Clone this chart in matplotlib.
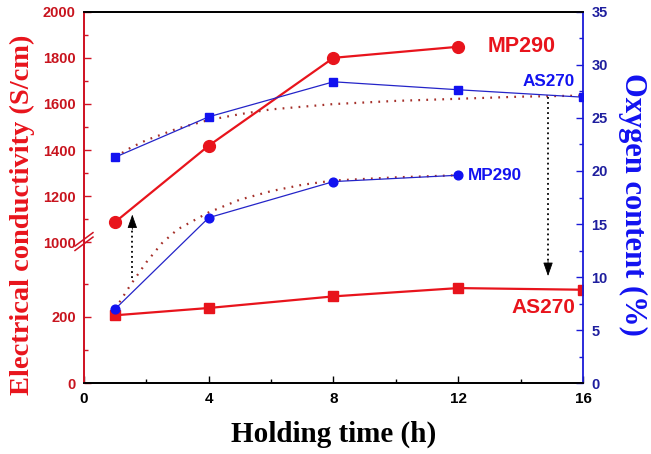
import numpy as np
import matplotlib
matplotlib.use("Agg")
import matplotlib.pyplot as plt
from matplotlib.ticker import FixedLocator

# ---------------- data ----------------
hours = [1, 4, 8, 12, 16]
mp290_hours = [1, 4, 8, 12]

mp290_cond = [1088, 1419, 1800, 1848]          # S/cm
as270_cond = [205, 227, 262, 287, 282]         # S/cm
as270_oxy = [21.3, 25.1, 28.4, 27.65, 26.95]   # %
mp290_oxy = [7.0, 15.6, 19.0, 19.6]            # %

# dotted guide curves
as270_fit_x = [1, 1.5, 2, 3, 4, 5, 6, 8, 10, 12, 14, 16]
as270_fit_y = [21.3, 22.2, 22.9, 24.0, 24.8, 25.35, 25.8, 26.3, 26.6, 26.8, 27.0, 27.1]
mp290_fit_x = [1, 1.5, 2, 2.5, 3, 4, 5, 6, 7, 8, 10, 12]
mp290_fit_y = [7.0, 9.3, 11.4, 13.2, 14.5, 16.1, 17.3, 18.1, 18.7, 19.1, 19.4, 19.6]

# arrows (x, start oxygen, end oxygen)
arrow_up = (1.55, 9.9, 15.9)
arrow_down = (14.88, 27.0, 10.1)

x_ticks = [0, 4, 8, 12, 16]
y_left_ticks = [0, 200, 1000, 1200, 1400, 1600, 1800, 2000]
y_left_minor = [100, 300, 1100, 1300, 1500, 1700, 1900]
y_right_ticks = [0, 5, 10, 15, 20, 25, 30, 35]

# ---------------- broken scale ----------------
L_TOP = 425.0
F_BRK = 0.3795

def fwd(v):
    v = np.asarray(v, dtype=float)
    return np.where(v <= L_TOP, v / L_TOP * F_BRK,
                    np.where(v >= 1000, F_BRK + (v - 1000) / 1000 * (1 - F_BRK), F_BRK))

def inv(t):
    t = np.asarray(t, dtype=float)
    return np.where(t <= F_BRK, t / F_BRK * L_TOP, 1000 + (t - F_BRK) / (1 - F_BRK) * 1000)

RED = "#e8141c"
RED_SP = "#d01424"
RED_TXT = "#c8141e"
BLUE = "#1212f0"
BLUE_LN = "#2424c8"
BLUE_SP = "#1a1ad8"
BLUE_TXT = "#1e1e9e"
DOT = "#a5302a"

plt.rcParams['font.family'] = ['Liberation Sans', 'DejaVu Sans']

fig = plt.figure(figsize=(6.51, 4.54), dpi=100)
ax = fig.add_axes([0.129, 0.1557, 0.7665, 0.8185])
ax2 = ax.twinx()

ax.set_yscale('function', functions=(fwd, inv))
ax.set_ylim(0, 2000)
ax.set_xlim(0, 16)
ax2.set_ylim(0, 35)

# conductivity
ax.plot(mp290_hours, mp290_cond, '-o', color=RED, lw=1.6, ms=8.5, mec=RED, zorder=3)
ax.plot(hours, as270_cond, '-s', color=RED, lw=1.6, ms=7, mec=RED, zorder=3)

# oxygen
ax2.plot(hours, as270_oxy, '-s', color=BLUE_LN, lw=0.9, ms=5.5, mfc=BLUE, mec=BLUE, zorder=3)
ax2.plot(mp290_hours, mp290_oxy, '-o', color=BLUE_LN, lw=0.9, ms=6.3, mfc=BLUE, mec=BLUE, zorder=3)

# dotted guide curves
ax2.plot(as270_fit_x, as270_fit_y, color=DOT, lw=1.6, dashes=(0.8, 2.8), zorder=2)
ax2.plot(mp290_fit_x, mp290_fit_y, color=DOT, lw=1.6, dashes=(0.8, 2.8), zorder=2)

# arrows
def draw_arrow(a, up):
    x, y0, y1 = a
    head = 1.0 if up else -1.0
    ax2.plot([x, x], [y0, y1 - head * 1.0], color='black', lw=1.3, dashes=(1, 1.8), zorder=4)
    ax2.annotate('', xy=(x, y1), xytext=(x, y1 - head * 1.4),
                 arrowprops=dict(arrowstyle='-|>,head_width=0.3,head_length=0.85',
                                 color='black', lw=0.6, shrinkA=0, shrinkB=0), zorder=4)

draw_arrow(arrow_up, True)
draw_arrow(arrow_down, False)

# labels in plot
ax.text(12.95, 1848, 'MP290', color=RED, fontsize=15.5, fontweight='bold', va='center', ha='left')
ax.text(13.72, 227, 'AS270', color=RED, fontsize=15, fontweight='bold', va='center', ha='left')
ax2.text(14.07, 28.4, 'AS270', color=BLUE, fontsize=12.3, fontweight='bold', va='center', ha='left')
ax2.text(12.32, 19.6, 'MP290', color=BLUE, fontsize=12.3, fontweight='bold', va='center', ha='left')

# ticks
ax.xaxis.set_major_locator(FixedLocator(x_ticks))
ax.xaxis.set_minor_locator(FixedLocator([2, 6, 10, 14]))
ax.yaxis.set_major_locator(FixedLocator(y_left_ticks))
ax.yaxis.set_minor_locator(FixedLocator(y_left_minor))
ax.set_yticklabels([str(t) for t in y_left_ticks])
ax2.yaxis.set_major_locator(FixedLocator(y_right_ticks))
ax2.yaxis.set_minor_locator(FixedLocator([2.5 + 5 * i for i in range(7)]))

ax.tick_params(axis='x', which='both', direction='in', colors='black', labelsize=11, pad=6.5)
ax.tick_params(axis='x', which='major', length=5, width=1)
ax.tick_params(axis='x', which='minor', length=3, width=1)
ax.tick_params(axis='y', which='both', direction='in', color=RED_SP, labelcolor=RED_TXT,
               labelsize=10.5, pad=6)
ax.tick_params(axis='y', which='major', length=5, width=1)
ax.tick_params(axis='y', which='minor', length=3, width=1)
ax2.tick_params(axis='y', which='both', direction='in', color=BLUE_SP, labelcolor=BLUE_TXT,
                labelsize=10.5, pad=6)
ax2.tick_params(axis='y', which='major', length=5, width=1)
ax2.tick_params(axis='y', which='minor', length=3, width=1)
for lab in ax.get_xticklabels() + ax.get_yticklabels() + ax2.get_yticklabels():
    lab.set_fontweight('bold')

# spines
for a in (ax, ax2):
    a.spines['top'].set_color('black')
    a.spines['bottom'].set_color('black')
    a.spines['top'].set_linewidth(1.3)
    a.spines['bottom'].set_linewidth(1.3)
ax2.spines['left'].set_color(RED_SP)
ax2.spines['left'].set_linewidth(1.3)
ax2.spines['right'].set_color(BLUE_SP)
ax2.spines['right'].set_linewidth(1.3)
ax.spines['left'].set_color(RED_SP)
ax.spines['left'].set_linewidth(1.3)
ax.spines['right'].set_visible(False)

# axis break marks
for dy in (-0.004, 0.008):
    ax2.plot([-0.018, 0.018], [F_BRK + dy - 0.018, F_BRK + dy + 0.018], transform=ax.transAxes,
             color=RED_SP, lw=1.1, clip_on=False, zorder=6)

serif = ['Liberation Serif', 'DejaVu Serif']
ax.set_xlabel('Holding time (h)', fontsize=21, fontweight='bold', family=serif)
ax.xaxis.label.set_va('baseline')
ax.xaxis.set_label_coords(0.5, -0.158)
ax.set_ylabel('Electrical conductivity (S/cm)', fontsize=20.5, fontweight='bold', family=serif,
              color=RED)
ax.yaxis.set_label_coords(-0.098, 0.453)
ax2.set_ylabel('Oxygen content (%)', fontsize=22, fontweight='bold', family=serif,
               color=BLUE, rotation=270, va='center')
ax2.yaxis.set_label_coords(1.099, 0.482)

fig.savefig('out.png', dpi=100)
